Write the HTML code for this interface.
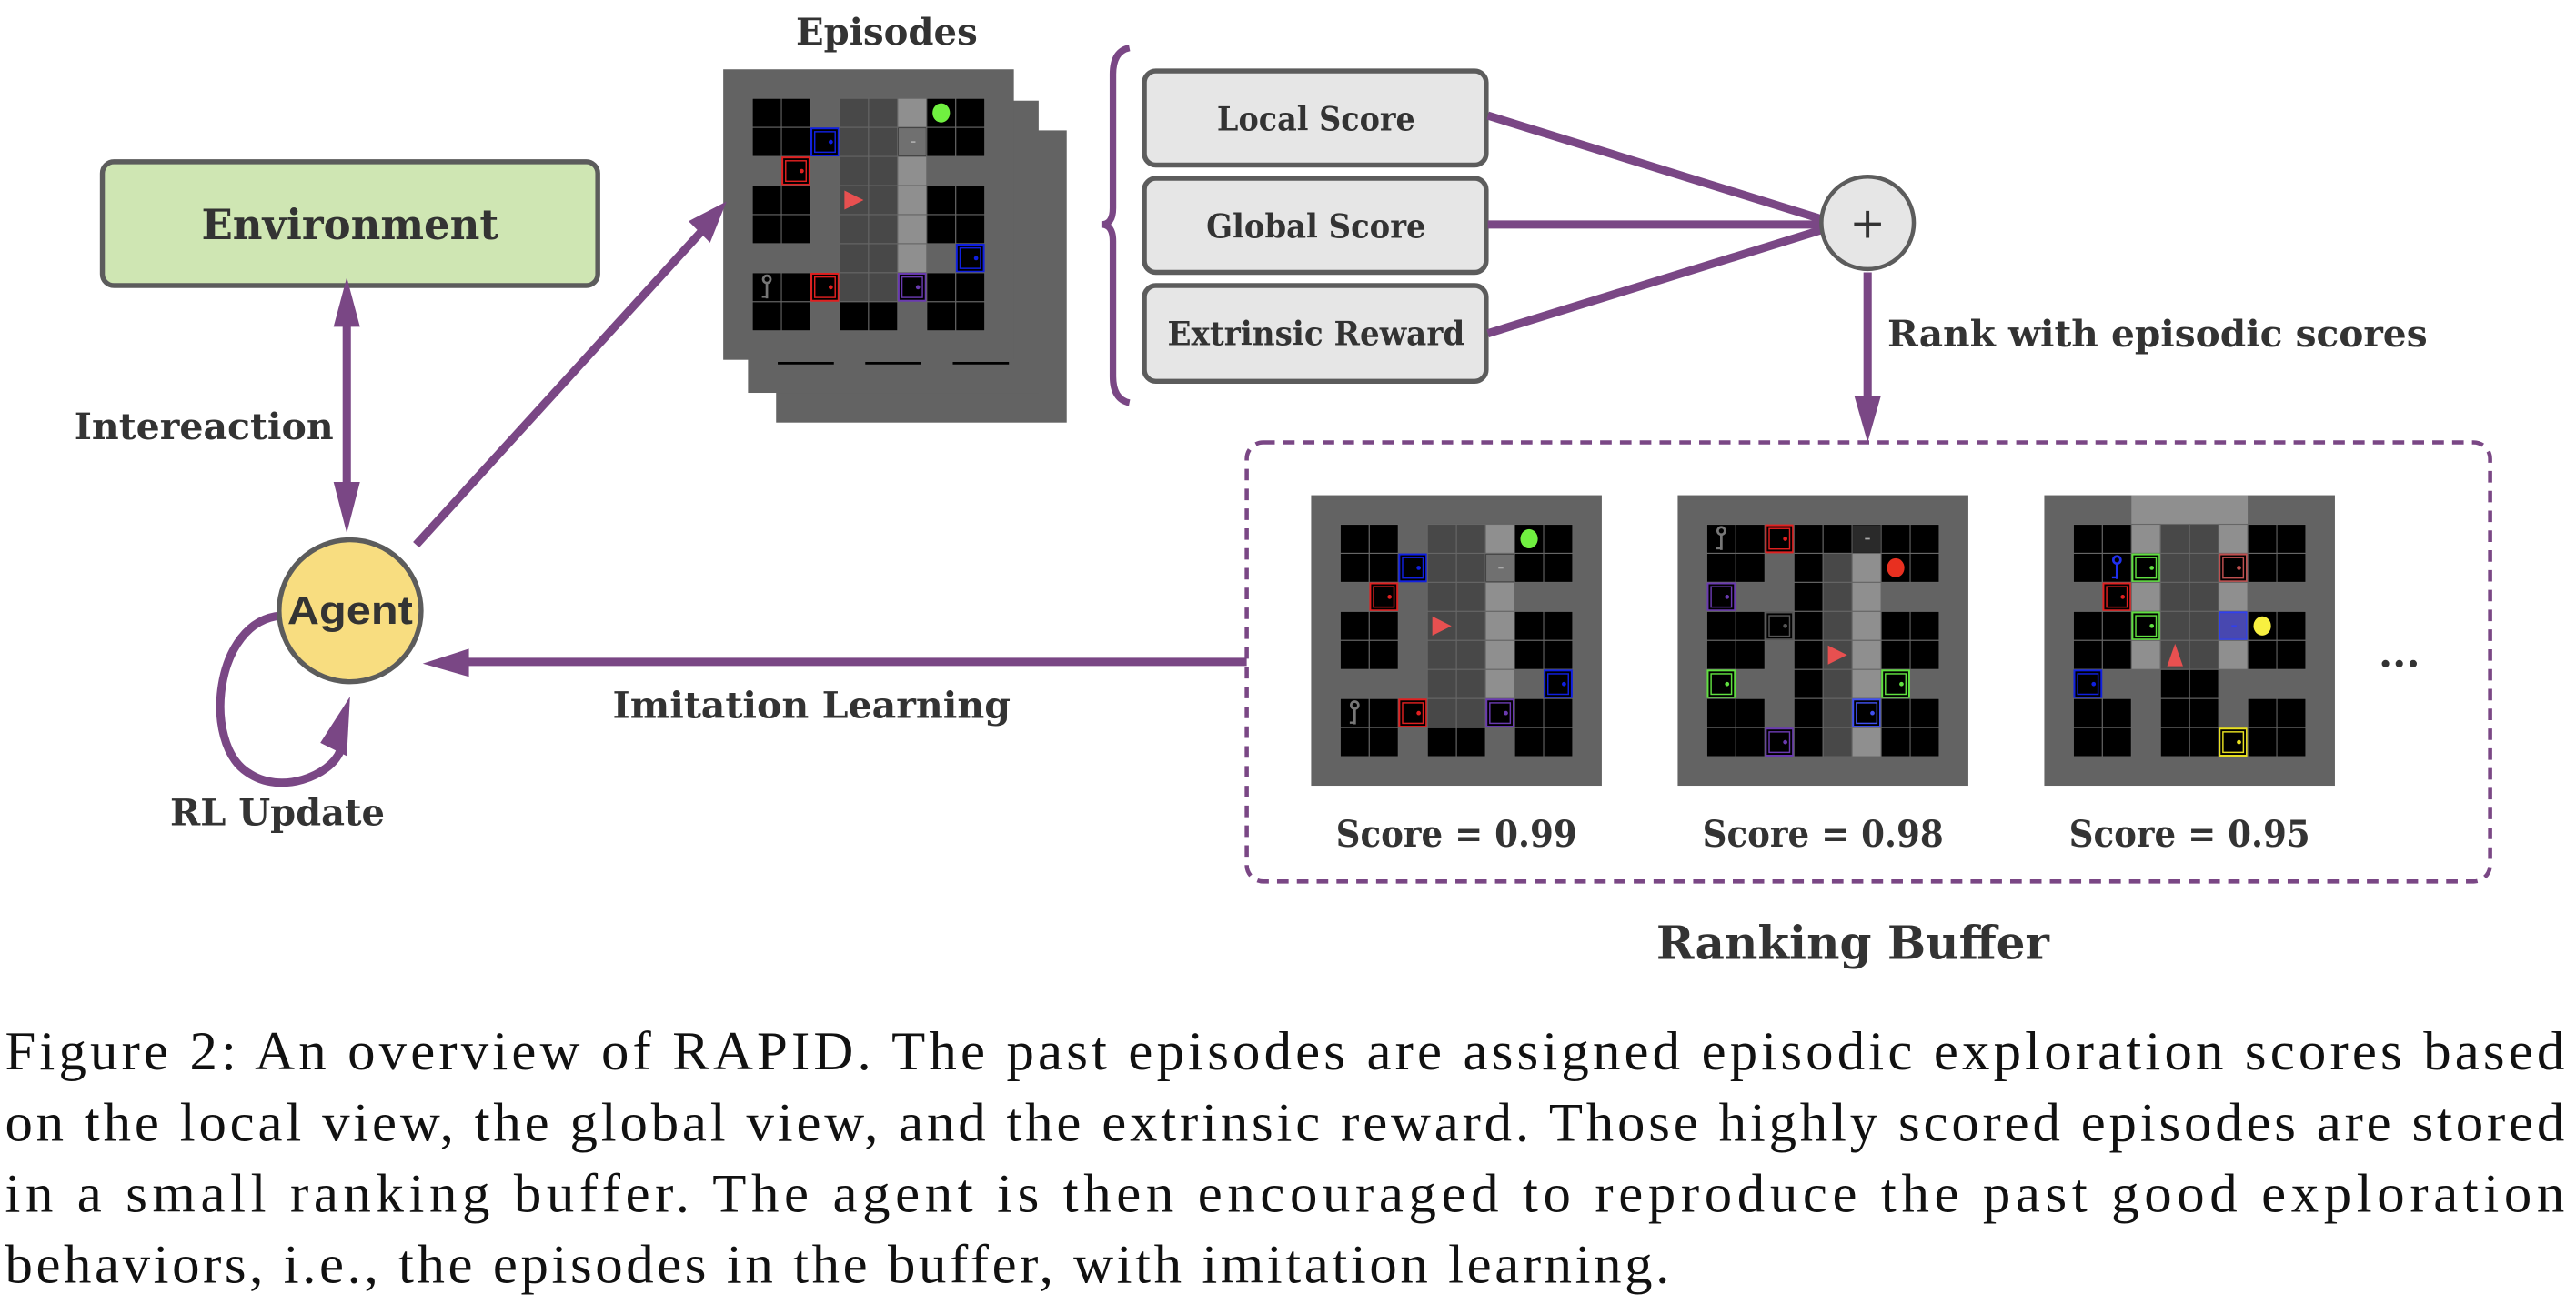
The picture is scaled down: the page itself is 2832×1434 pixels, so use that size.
<!DOCTYPE html>
<html><head><meta charset="utf-8"><style>
html,body{margin:0;padding:0;background:#fff;width:2832px;height:1434px;overflow:hidden}
svg{display:block}
.lbl{font-family:"DejaVu Serif","Liberation Serif",serif;font-weight:bold;fill:#333}
.cap{font-family:"Liberation Serif",serif;fill:#111;font-size:33.5px}
</style></head><body>
<svg id="s" width="2832" height="1434" viewBox="0 0 1560 790" preserveAspectRatio="none" xmlns="http://www.w3.org/2000/svg">
<g id="panels"></g>
<!-- Environment -->
<rect x="62" y="98" width="300" height="75" rx="7" fill="#cfe6b3" stroke="#5c5c5c" stroke-width="3"/>
<text class="lbl" x="212" y="145" font-size="25" text-anchor="middle" textLength="180" lengthAdjust="spacingAndGlyphs">Environment</text>
<!-- interaction arrow -->
<line x1="210" y1="195" x2="210" y2="300" stroke="#7a4785" stroke-width="5"/>
<polygon points="210,168 202,198 218,198" fill="#7a4785"/>
<polygon points="210,323 202,292 218,292" fill="#7a4785"/>
<text class="lbl" x="45" y="266" font-size="22" textLength="157" lengthAdjust="spacingAndGlyphs">Intereaction</text>
<!-- agent -->
<line x1="252" y1="330" x2="425" y2="140" stroke="#7a4785" stroke-width="5"/>
<polygon points="440,122 417,134 430,147" fill="#7a4785"/>
<path d="M170,373 C130,376 122,450 150,468 C170,482 200,470 206,455" fill="none" stroke="#7a4785" stroke-width="5"/>
<polygon points="212,422 194,450 210,458" fill="#7a4785"/>
<circle cx="212" cy="370" r="43" fill="#f8dd80" stroke="#5c5c5c" stroke-width="3"/>
<text x="212" y="378" font-family="Liberation Sans,sans-serif" font-weight="bold" font-size="24" fill="#333" text-anchor="middle" textLength="76" lengthAdjust="spacingAndGlyphs">Agent</text>
<text class="lbl" x="103" y="500" font-size="22" textLength="130" lengthAdjust="spacingAndGlyphs">RL Update</text>
<!-- imitation -->
<line x1="755" y1="401" x2="280" y2="401" stroke="#7a4785" stroke-width="5"/>
<polygon points="256,402 284,393 284,410" fill="#7a4785"/>
<text class="lbl" x="371" y="435" font-size="22" textLength="241" lengthAdjust="spacingAndGlyphs">Imitation Learning</text>
<!-- episodes -->
<text class="lbl" x="482" y="27" font-size="22" textLength="110" lengthAdjust="spacingAndGlyphs">Episodes</text>
<!-- brace -->
<path d="M684,29 Q674,31 674,45 L674,126 Q674,136 667,136 Q674,136 674,146 L674,228 Q674,242 684,244" fill="none" stroke="#7a4785" stroke-width="4"/>
<!-- score boxes -->
<rect x="693" y="43" width="207" height="57" rx="7" fill="#e6e6e6" stroke="#5c5c5c" stroke-width="3"/>
<rect x="693" y="108" width="207" height="57" rx="7" fill="#e6e6e6" stroke="#5c5c5c" stroke-width="3"/>
<rect x="693" y="173" width="207" height="58" rx="7" fill="#e6e6e6" stroke="#5c5c5c" stroke-width="3"/>
<text class="lbl" x="797" y="79" font-size="20" text-anchor="middle" textLength="120" lengthAdjust="spacingAndGlyphs">Local Score</text>
<text class="lbl" x="797" y="144" font-size="20" text-anchor="middle" textLength="133" lengthAdjust="spacingAndGlyphs">Global Score</text>
<text class="lbl" x="797" y="209" font-size="20" text-anchor="middle" textLength="180" lengthAdjust="spacingAndGlyphs">Extrinsic Reward</text>
<line x1="901" y1="70" x2="1104" y2="133" stroke="#7a4785" stroke-width="5"/>
<line x1="901" y1="136" x2="1104" y2="136" stroke="#7a4785" stroke-width="5"/>
<line x1="901" y1="202" x2="1104" y2="139" stroke="#7a4785" stroke-width="5"/>
<circle cx="1131" cy="135" r="28" fill="#e6e6e6" stroke="#5c5c5c" stroke-width="2.5"/>
<text x="1131" y="144" font-family="DejaVu Sans,sans-serif" font-size="26" fill="#333" text-anchor="middle">+</text>
<line x1="1131" y1="165" x2="1131" y2="245" stroke="#7a4785" stroke-width="5"/>
<polygon points="1131,268 1123,240 1139,240" fill="#7a4785"/>
<text class="lbl" x="1143" y="210" font-size="22" textLength="327" lengthAdjust="spacingAndGlyphs">Rank with episodic scores</text>
<!-- ranking buffer -->
<rect x="755" y="268" width="753" height="266" rx="10" fill="none" stroke="#7a4785" stroke-width="2.5" stroke-dasharray="7,5"/>
<text class="lbl" x="882" y="513" font-size="22" text-anchor="middle" textLength="146" lengthAdjust="spacingAndGlyphs">Score = 0.99</text>
<text class="lbl" x="1104" y="513" font-size="22" text-anchor="middle" textLength="146" lengthAdjust="spacingAndGlyphs">Score = 0.98</text>
<text class="lbl" x="1326" y="513" font-size="22" text-anchor="middle" textLength="146" lengthAdjust="spacingAndGlyphs">Score = 0.95</text>
<text class="lbl" x="1453" y="404" font-size="24" text-anchor="middle">...</text>
<text class="lbl" x="1122" y="581" font-size="28" text-anchor="middle" textLength="238" lengthAdjust="spacingAndGlyphs">Ranking Buffer</text>
<!-- caption -->
<text class="cap" x="3" y="648" textLength="1550" lengthAdjust="spacing">Figure 2: An overview of RAPID. The past episodes are assigned episodic exploration scores based</text>
<text class="cap" x="3" y="691" textLength="1550" lengthAdjust="spacing">on the local view, the global view, and the extrinsic reward. Those highly scored episodes are stored</text>
<text class="cap" x="3" y="734" textLength="1550" lengthAdjust="spacing">in a small ranking buffer.  The agent is then encouraged to reproduce the past good exploration</text>
<text class="cap" x="3" y="777" textLength="1008" lengthAdjust="spacing">behaviors, i.e., the episodes in the buffer, with imitation learning.</text>
</svg>
<script>
(function(){
var NS="http://www.w3.org/2000/svg",g=document.getElementById("panels");
function el(t,a){var e=document.createElementNS(NS,t);for(var k in a)e.setAttribute(k,a[k]);g.appendChild(e);return e;}
var S=17.6;
var doorC={R:"#e02020",b:"#1020e0",p:"#6a3ab0",G:"#60e040",Y:"#e8e020",X:"#555",Q:"#4050f0",r:"#c05050"};
function panel(x,y,rows,extra){
 el("rect",{x:x,y:y,width:S*10,height:S*10,fill:"#636363"});
 if(extra)extra(x,y);
 for(var r=0;r<8;r++){var toks=rows[r].split(" ");
  for(var c=0;c<8;c++){var t=toks[c],cx=x+S*(c+1),cy=y+S*(r+1);
   if(t==".")continue;
   var bg="#000";
   if(t=="D"||t=="T"||t=="U")bg="#484848";
   if(t=="L")bg="#8f8f8f";
   el("rect",{x:cx,y:cy,width:S,height:S,fill:bg,stroke:"#666","stroke-width":0.6});
   if(t=="g"||t=="o"||t=="y"){el("ellipse",{cx:cx+S/2,cy:cy+S/2,rx:S*0.3,ry:S*0.33,fill:t=="g"?"#70f040":t=="o"?"#e83020":"#f8f040"});}
   else if(t=="T"){el("polygon",{points:(cx+3)+","+(cy+3)+" "+(cx+S-3)+","+(cy+S/2)+" "+(cx+3)+","+(cy+S-3),fill:"#e85050"});}
   else if(t=="U"){el("polygon",{points:(cx+S/2)+","+(cy+2)+" "+(cx+S-4)+","+(cy+S-2)+" "+(cx+4)+","+(cy+S-2),fill:"#e85050"});}
   else if(t=="K"||t=="k"){var kc=t=="K"?"#777":"#2030f0";el("circle",{cx:cx+S/2,cy:cy+4,r:2.2,fill:"none",stroke:kc,"stroke-width":1.5});el("line",{x1:cx+S/2,y1:cy+6,x2:cx+S/2,y2:cy+S-2,stroke:kc,"stroke-width":1.5});el("line",{x1:cx+S/2,y1:cy+S-3,x2:cx+S/2-3,y2:cy+S-3,stroke:kc,"stroke-width":1.3});}
   else if(t=="O"||t=="Z"){el("rect",{x:cx+0.5,y:cy+0.5,width:S-1,height:S-1,fill:t=="O"?"#707070":"#2a2a2a"});el("rect",{x:cx+S/2-1,y:cy+S/2-0.5,width:3,height:1,fill:"#aaa"});}
   else if(t=="F"){el("rect",{x:cx+0.5,y:cy+0.5,width:S-1,height:S-1,fill:"#4848b0",stroke:"#3040f0","stroke-width":1});el("rect",{x:cx+S/2-1,y:cy+S/2-0.5,width:3,height:1,fill:"#3040f0"});}
   else if(doorC[t]){var dc=doorC[t];el("rect",{x:cx+0.6,y:cy+0.6,width:S-1.2,height:S-1.2,fill:"#000",stroke:dc,"stroke-width":1.1});el("rect",{x:cx+2.6,y:cy+2.6,width:S-5.2,height:S-5.2,fill:"none",stroke:dc,"stroke-width":0.8});el("circle",{cx:cx+S*0.7,cy:cy+S/2,r:1.3,fill:dc});}
  }}
}
var p1=["B B . D D L g B","B B b D D O B B",". R . D D L . .","B B . T D L B B","B B . D D L B B",". . . D D L . b","K B R D D p B B","B B . B B . B B"];
el("rect",{x:470,y:79,width:176,height:177,fill:"#636363"});
el("rect",{x:453,y:61,width:176,height:177,fill:"#636363"});
panel(438,42,p1);
[[471,505],[524,558],[577,611]].forEach(function(a){el("line",{x1:a[0],y1:220,x2:a[1],y2:220,stroke:"#000","stroke-width":1.5});});
panel(794,300,p1);
panel(1016,300,["K B R B B Z B B","B B . B D L o B","p . . B D L . .","B B X B D L B B","B B . B T L B B","G . . B D L G .","B B . B D Q B B","B B p B D L B B"]);
panel(1238,300,["B B L D D L B B","B k G D D r B B",". R L D D L . .","B B G D D F y B","B B L U D L B B","b . . B B . . .","B B . B B . B B","B B . B B Y B B"],function(x,y){el("rect",{x:x+S*3,y:y,width:S*4,height:S,fill:"#8f8f8f"});});
})();
</script>
</body></html>
